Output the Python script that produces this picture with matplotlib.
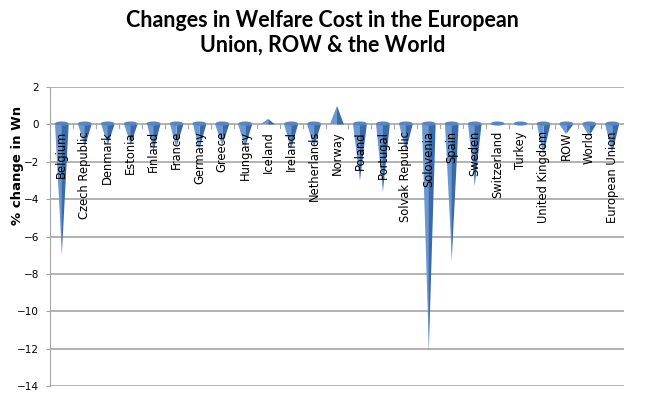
import matplotlib.pyplot as plt
from matplotlib.patches import Ellipse

countries = ['Belgium', 'Czech Republic', 'Denmark', 'Estonia', 'Finland', 'France',
             'Germany', 'Greece', 'Hungary', 'Iceland', 'Ireland', 'Netherlands',
             'Norway', 'Poland', 'Portugal', 'Solvak Republic', 'Solovenia', 'Spain',
             'Sweden', 'Switzerland', 'Turkey', 'United Kingdom', 'ROW', 'World',
             'European Union']
welfare_change = [-7.0, -1.2, -1.1, -1.1, -1.4, -1.2,
                  -1.3, -1.1, -1.2, 0.3, -1.3, -1.2,
                  1.0, -3.0, -3.6, -1.4, -12.2, -7.3,
                  -3.3, 0.05, 0.05, -1.6, -0.5, -0.6,
                  -1.5]
y_ticks = [2, 0, -2, -4, -6, -8, -10, -12, -14]

fig = plt.figure(figsize=(6.45, 3.96), dpi=100)
ax = fig.add_axes([0.078, 0.025, 0.889, 0.755])

half = 0.3
for i, v in enumerate(welfare_change):
    # cone seen side-on: lighter left half, darker right half
    ax.fill([i - half, i, i], [0, 0, v], color='#6b98d0', lw=0, zorder=3)
    ax.fill([i, i + half, i], [0, 0, v], color='#3c6aa8', lw=0, zorder=3)
    if v < 0.1:
        ax.add_patch(Ellipse((i, 0.05), 2 * half, 0.22, color='#5585c2', lw=0, zorder=4))
    ax.text(i, -0.35, countries[i], rotation=90, ha='center', va='top',
            fontsize=8.3, zorder=5)

for y in y_ticks:
    ax.axhline(y, color='#a6a6a6', lw=1.2, zorder=1)
# category axis tick marks at zero
for i in range(len(countries) + 1):
    ax.plot([i - 0.5, i - 0.5], [0, -0.2], color='#a6a6a6', lw=0.8, zorder=2)

ax.set_xlim(-0.5, len(countries) - 0.5)
ax.set_ylim(-14, 2)
ax.set_yticks(y_ticks)
ax.set_xticks([])
ax.tick_params(axis='y', labelsize=7.5, length=3, pad=5, color='#a6a6a6')
for side in ['top', 'right', 'bottom']:
    ax.spines[side].set_visible(False)
ax.spines['left'].set_color('#a6a6a6')
fig.text(18 / 645, 1 - 165 / 396, '% change in Wn', rotation=90, ha='center',
         va='center', fontsize=9.5, fontweight='bold')

fig.text(0.5, 0.975, 'Changes in Welfare Cost in the European\nUnion, ROW & the World',
         ha='center', va='top', fontsize=15.5, fontweight='bold', family='Lato',
         linespacing=1.2)

fig.savefig('out.png', dpi=100)
